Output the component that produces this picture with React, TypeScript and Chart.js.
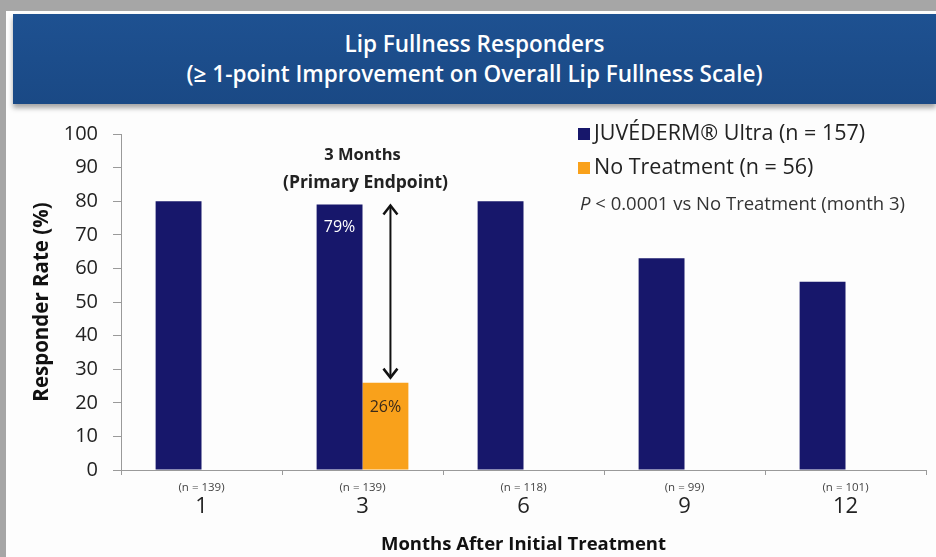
import React, { useEffect, useRef } from "react";
import { Chart, registerables } from "chart.js";

Chart.register(...registerables);

// ---- data ----
const months = ["1", "3", "6", "9", "12"];
const sampleSizes = ["(n = 139)", "(n = 139)", "(n = 118)", "(n = 99)", "(n = 101)"];
const juvedermValues = [80, 79, 80, 63, 56];
const noTreatmentValues: (number | null)[] = [null, 26, null, null, null];
const seriesLabels = ["JUVÉDERM® Ultra (n = 157)", "No Treatment (n = 56)"];
const seriesColors = ["#17176b", "#f9a11b"];
const titleLines = ["Lip Fullness Responders", "(≥ 1-point Improvement on Overall Lip Fullness Scale)"];
const pValueItalic = "P";
const pValueText = " < 0.0001 vs No Treatment (month 3)";
const annotationLines = ["3 Months", "(Primary Endpoint)"];
const highlightIndex = 1; // month 3
const xAxisTitle = "Months After Initial Treatment";
const yAxisTitle = "Responder Rate (%)";
const yMin = 0;
const yMax = 100;
const yStep = 10;

const FONT = "'Open Sans', 'DejaVu Sans', sans-serif";

const overlayPlugin = {
  id: "overlay",
  afterDraw(chart: any) {
    const ctx = chart.ctx as CanvasRenderingContext2D;
    const xs = chart.scales.x;
    const area = chart.chartArea;
    ctx.save();

    // sample sizes under axis
    ctx.font = `11.5px ${FONT}`;
    ctx.fillStyle = "#444";
    ctx.textAlign = "center";
    ctx.textBaseline = "middle";
    sampleSizes.forEach((s, i) => {
      ctx.fillText(s, xs.getPixelForValue(i), area.bottom + 18);
    });

    // annotation
    const cx = xs.getPixelForValue(highlightIndex);
    ctx.font = `bold 16.5px ${FONT}`;
    ctx.fillStyle = "#222";
    ctx.fillText(annotationLines[0], cx, area.top + 21);
    ctx.font = `bold 17.5px ${FONT}`;
    ctx.fillText(annotationLines[1], cx + 3, area.top + 49);

    // bar value labels
    const blue = chart.getDatasetMeta(0).data[highlightIndex];
    const orange = chart.getDatasetMeta(1).data[highlightIndex];
    ctx.font = `16px ${FONT}`;
    ctx.fillStyle = "#ffffff";
    ctx.fillText(`${juvedermValues[highlightIndex]}%`, blue.x, blue.y + 23);
    ctx.fillStyle = "#3a2a1a";
    ctx.fillText(`${noTreatmentValues[highlightIndex]}%`, orange.x, orange.y + 25);

    // double arrow
    const ax = orange.x + 5;
    const topY = blue.y + 1;
    const botY = orange.y - 5;
    ctx.strokeStyle = "#111";
    ctx.lineWidth = 2;
    ctx.beginPath();
    ctx.moveTo(ax, topY + 1);
    ctx.lineTo(ax, botY - 1);
    ctx.stroke();
    ctx.lineWidth = 2.5;
    ctx.beginPath();
    ctx.moveTo(ax - 7, topY + 9);
    ctx.lineTo(ax, topY);
    ctx.lineTo(ax + 7, topY + 9);
    ctx.moveTo(ax - 7, botY - 9);
    ctx.lineTo(ax, botY);
    ctx.lineTo(ax + 7, botY - 9);
    ctx.stroke();

    // legend
    const lx = area.right - 342;
    ctx.textAlign = "left";
    ctx.font = `21.5px ${FONT}`;
    seriesLabels.forEach((lab, i) => {
      const cy = area.top + i * 34;
      ctx.fillStyle = seriesColors[i];
      ctx.fillRect(lx - 6, cy - 6, 12, 12);
      ctx.fillStyle = "#222";
      ctx.fillText(lab, lx + 10, cy);
    });
    const py = area.top + 71;
    ctx.font = `italic 18.5px ${FONT}`;
    ctx.fillStyle = "#333";
    ctx.fillText(pValueItalic, lx - 4, py);
    const w = ctx.measureText(pValueItalic).width;
    ctx.font = `18.5px ${FONT}`;
    ctx.fillText(pValueText, lx - 4 + w, py);

    ctx.restore();
  },
};

export default function App() {
  const ref = useRef<HTMLCanvasElement>(null);

  useEffect(() => {
    document.body.style.margin = "0";
    Chart.defaults.font.family = FONT;
    const chart = new Chart(ref.current as HTMLCanvasElement, {
      type: "bar",
      data: {
        labels: months,
        datasets: [
          {
            label: seriesLabels[0],
            data: juvedermValues,
            backgroundColor: seriesColors[0],
            categoryPercentage: 0.57,
            barPercentage: 1,
          },
          {
            label: seriesLabels[1],
            data: noTreatmentValues,
            backgroundColor: seriesColors[1],
            categoryPercentage: 0.57,
            barPercentage: 1,
          },
        ],
      },
      options: {
        responsive: false,
        animation: false,
        devicePixelRatio: 1,
        layout: { padding: { left: 6, top: 134, right: 10, bottom: 0 } },
        plugins: {
          legend: { display: false },
          tooltip: { enabled: false },
          title: { display: false },
        },
        scales: {
          x: {
            grid: {
              display: true,
              drawOnChartArea: false,
              drawTicks: true,
              tickLength: 5,
              color: "#9a9a9a",
              offset: true,
            },
            border: { display: true, color: "#9a9a9a", width: 1 },
            ticks: { color: "#222", font: { family: FONT, size: 22 }, padding: 19 },
            title: {
              display: true,
              text: xAxisTitle,
              color: "#111",
              font: { family: FONT, size: 18.5, weight: "bold" },
              padding: { top: 0, bottom: 1 },
            },
            afterFit: (s: any) => {
              s.height = 87;
            },
          },
          y: {
            min: yMin,
            max: yMax,
            ticks: { stepSize: yStep, color: "#222", font: { family: FONT, size: 20 }, padding: 15 },
            grid: {
              display: true,
              drawOnChartArea: false,
              drawTicks: true,
              tickLength: 8,
              color: "#9a9a9a",
            },
            border: { display: true, color: "#9a9a9a", width: 1 },
            title: {
              display: true,
              text: yAxisTitle,
              color: "#111",
              font: { family: FONT, size: 20.5, weight: "bold" },
              padding: { top: 24, bottom: 0 },
            },
            afterFit: (s: any) => {
              s.width = 115;
            },
          },
        },
      } as any,
      plugins: [overlayPlugin],
    });
    return () => chart.destroy();
  }, []);

  return (
    <div
      style={{
        position: "relative",
        width: 936,
        height: 557,
        background: "#fdfdfd",
        overflow: "hidden",
        fontFamily: FONT,
      }}
    >
      <div style={{ position: "absolute", left: 0, top: 0, width: 936, height: 11, background: "#a6a6a6" }} />
      <div style={{ position: "absolute", left: 0, top: 0, width: 6, height: 557, background: "#a6a6a6" }} />
      <div
        style={{
          position: "absolute",
          left: 13,
          top: 14,
          width: 923,
          height: 90,
          background: "linear-gradient(#1e5191, #1a4985)",
          boxShadow: "0 4px 5px rgba(0,0,0,0.35)",
          color: "#fff",
          display: "flex",
          flexDirection: "column",
          justifyContent: "center",
          alignItems: "center",
          fontSize: 22.5,
          fontWeight: 600,
          lineHeight: "30px",
        }}
      >
        {titleLines.map((t) => (
          <div key={t}>{t}</div>
        ))}
      </div>
      <canvas ref={ref} width={936} height={557} style={{ position: "absolute", left: 0, top: 0 }} />
    </div>
  );
}
